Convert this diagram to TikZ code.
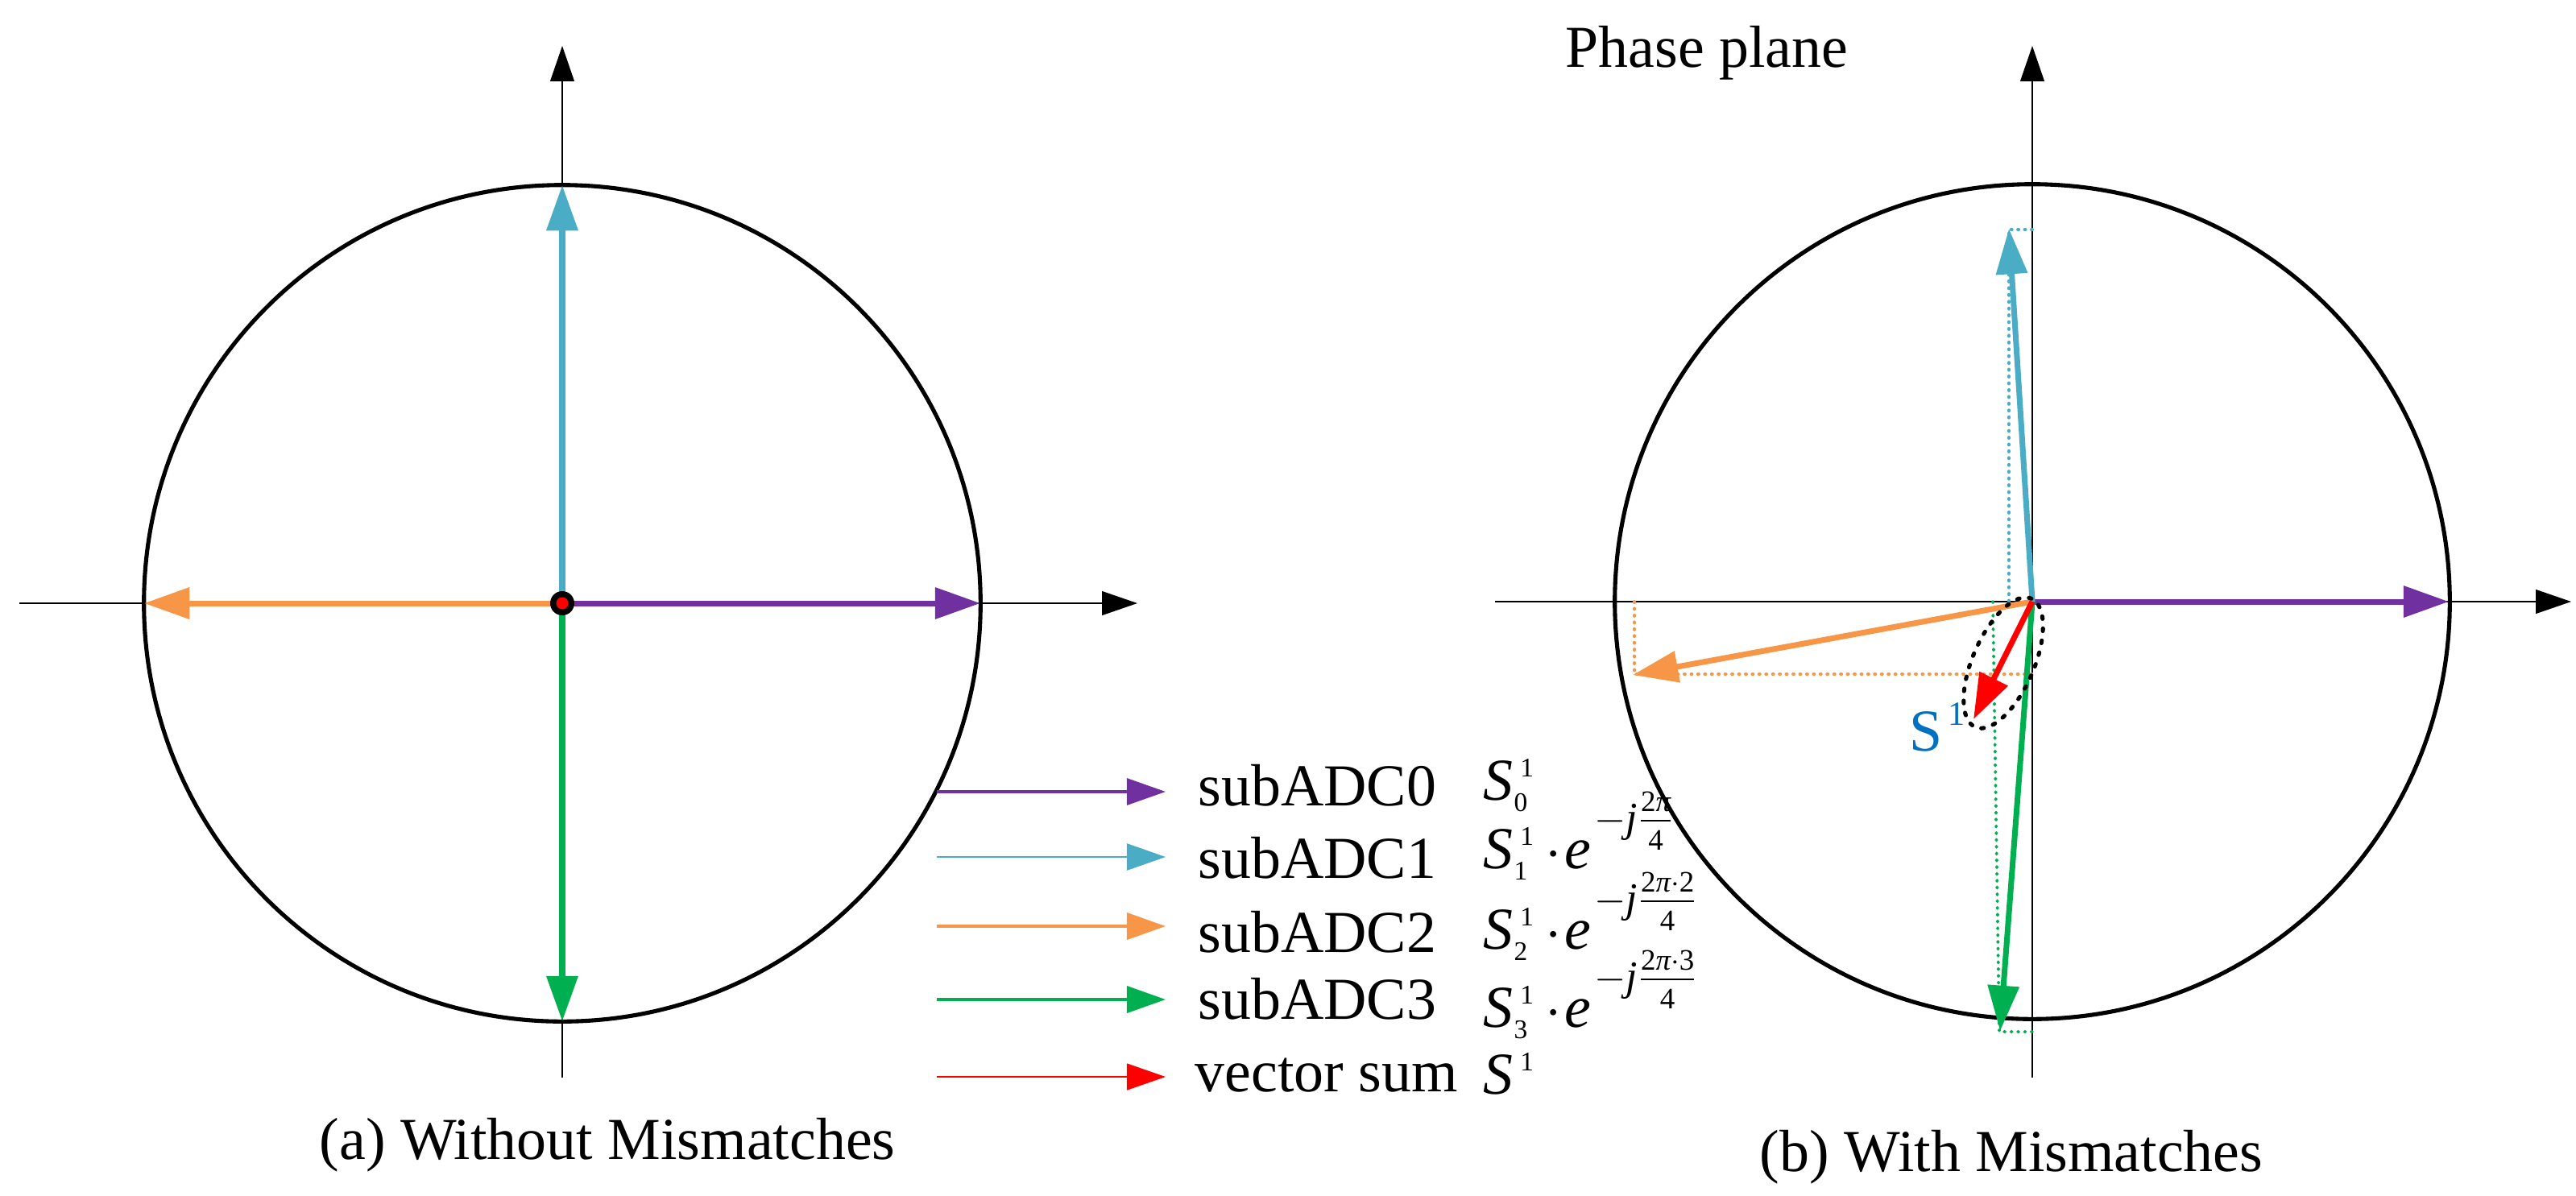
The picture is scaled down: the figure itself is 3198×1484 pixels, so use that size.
\documentclass[tikz,border=0pt]{standalone}
\usepackage{amsmath}
\usepackage{fontspec}
\setmainfont{Liberation Serif}
\usetikzlibrary{arrows.meta,shapes.geometric,calc}
\definecolor{cpur}{HTML}{7030A0}
\definecolor{ccy}{HTML}{4BACC6}
\definecolor{cor}{HTML}{F79646}
\definecolor{cgr}{HTML}{00B050}
\definecolor{cred}{HTML}{FF0000}
\definecolor{cblue}{HTML}{0070C0}
\newcommand{\ti}[1]{\textit{#1}}
\newcommand{\tr}[1]{\textrm{#1}}
\newcommand{\scr}[1]{{\fontsize{9.5}{9.5}\selectfont #1}}
% S with superscript 1 and a subscript
\newcommand{\Ssub}[1]{\textit{S}\kern0.3pt\rlap{\raisebox{-4pt}{\scr{#1}}}\kern2.2pt\raisebox{8pt}{\scr{1}}}
\newcommand{\myexp}[1]{$\scriptstyle -\ti{j}\frac{\rule[-2.5pt]{0pt}{2.5pt}#1}{\rule{0pt}{9.5pt}\tr{4}}$}
\begin{document}
\begin{tikzpicture}[x=0.01cm,y=-0.01cm,
  axis/.style={line width=0.4pt, -{Triangle[length=12.5pt,width=8.5pt]}},
  vec/.style={line width=2pt, -{Triangle[length=16pt,width=10.8pt]}},
  lgd/.style={-{Triangle[length=13.7pt,width=9.4pt]}},
  proj/.style={line width=1.1pt, line cap=round, dash pattern=on 0.3pt off 2.1pt},
  ring/.style={line width=1.45pt},
  txt/.style={inner sep=0pt, anchor=base west, font=\fontsize{21}{25}\selectfont},
]
\useasboundingbox (0,0) rectangle (3198,1484);

% ---------------- left panel ----------------
\coordinate (O1) at (698,749);
\coordinate (LXs) at (24,749);  \coordinate (LXe) at (1412,749);
\coordinate (LYs) at (698,1338); \coordinate (LYe) at (698,57);
\draw[axis] (LXs) -- (LXe);
\draw[axis] (LYs) -- (LYe);
\draw[ring] (O1) circle[radius=5.19cm];
\coordinate (A0) at (1217,749);
\coordinate (A1) at (698,230);
\coordinate (A2) at (179,749);
\coordinate (A3) at (698,1268);
\draw[vec,cpur] (O1) -- (A0);
\draw[vec,ccy]  (O1) -- (A1);
\draw[vec,cor]  (O1) -- (A2);
\draw[vec,cgr]  (O1) -- (A3);
\fill[black] (O1) circle[radius=0.15cm];
\fill[cred] (O1) circle[radius=0.075cm];
\node[txt] (capA) at (396,1439) {(a) Without Mismatches};

% ---------------- right panel ----------------
\coordinate (O2) at (2523,747);
\coordinate (RXs) at (1856,747); \coordinate (RXe) at (3192,747);
\coordinate (RYs) at (2523,1338); \coordinate (RYe) at (2523,57);
\draw[axis] (RXs) -- (RXe);
\draw[axis] (RYs) -- (RYe);
\draw[ring] (O2) circle[radius=5.18cm];
\node[txt] (phase) at (1943,83) {Phase plane};

\coordinate (B0) at (3040,747);
\coordinate (B1) at (2494,284);
\coordinate (B2) at (2027,838);
\coordinate (B3) at (2483,1280);
\coordinate (BS) at (2450,893);
% projections
\coordinate (P1a) at (2523,285); \coordinate (P1b) at (2494,285); \coordinate (P1c) at (2494,747);
\coordinate (P2a) at (2029,747); \coordinate (P2b) at (2029,837); \coordinate (P2c) at (2523,837);
\coordinate (P3a) at (2474,747); \coordinate (P3b) at (2482,1281); \coordinate (P3c) at (2523,1281);
\draw[proj,ccy] (P1a) -- (P1b) -- (P1c);
\draw[proj,cor] (P2a) -- (P2b) -- (P2c);
\draw[proj,cgr] (P3a) -- (P3b) -- (P3c);

\draw[vec,cpur] (O2) -- (B0);
\draw[vec,ccy]  (O2) -- (B1);
\draw[vec,cor]  (O2) -- (B2);
\draw[vec,cgr]  (O2) -- (B3);
\draw[vec,cred] (O2) -- (BS);
\node[ellipse, draw, line width=1.45pt, line cap=round, dash pattern=on 0.9pt off 3.4pt,
      minimum width=1.74cm, minimum height=0.76cm, inner sep=0pt, rotate=66.4] (E) at (2487,823) {};
\node[txt, text=cblue] (Slab) at (2370,932) {S\kern2pt\raisebox{9pt}{\fontsize{12}{12}\selectfont 1}};
\node[txt] (capB) at (2184,1454) {(b) With Mismatches};

% ---------------- legend ----------------
\coordinate (L0s) at (1163,983);  \coordinate (L0e) at (1447,983);
\coordinate (L1s) at (1163,1064); \coordinate (L1e) at (1447,1064);
\coordinate (L2s) at (1163,1150); \coordinate (L2e) at (1447,1150);
\coordinate (L3s) at (1163,1241); \coordinate (L3e) at (1447,1241);
\coordinate (L4s) at (1163,1337); \coordinate (L4e) at (1447,1337);
\draw[lgd,cpur,line width=0.9pt] (L0s) -- (L0e);
\draw[lgd,ccy,line width=0.8pt]  (L1s) -- (L1e);
\draw[lgd,cor,line width=1.1pt]  (L2s) -- (L2e);
\draw[lgd,cgr,line width=1.1pt]  (L3s) -- (L3e);
\draw[lgd,cred,line width=0.45pt] (L4s) -- (L4e);
\node[txt] (T0) at (1487,1000) {subADC0};
\node[txt] (T1) at (1487,1090) {subADC1};
\node[txt] (T2) at (1487,1182) {subADC2};
\node[txt] (T3) at (1487,1265) {subADC3};
\node[txt] (T4) at (1483,1355) {vector sum};
\node[txt] (F0) at (1841,993)  {\Ssub{0}};
\node[txt] (F1) at (1841,1078) {\Ssub{1}\kern4pt$\cdot$\kern1pt\ti{e}};
\node[txt] (F2) at (1841,1178) {\Ssub{2}\kern4pt$\cdot$\kern1pt\ti{e}};
\node[txt] (F3) at (1841,1275) {\Ssub{3}\kern4pt$\cdot$\kern1pt\ti{e}};
\node[txt] (X1) at ($(F1.base east)+(3,-46)$) {\myexp{\tr{2}\ti{π}}};
\node[txt] (X2) at ($(F2.base east)+(3,-46)$) {\myexp{\tr{2}\ti{π}\cdot\tr{2}}};
\node[txt] (X3) at ($(F3.base east)+(3,-46)$) {\myexp{\tr{2}\ti{π}\cdot\tr{3}}};
\node[txt] (F4) at (1841,1358) {\ti{S}\kern2.5pt\raisebox{8pt}{\scr{1}}};
\end{tikzpicture}
\end{document}
